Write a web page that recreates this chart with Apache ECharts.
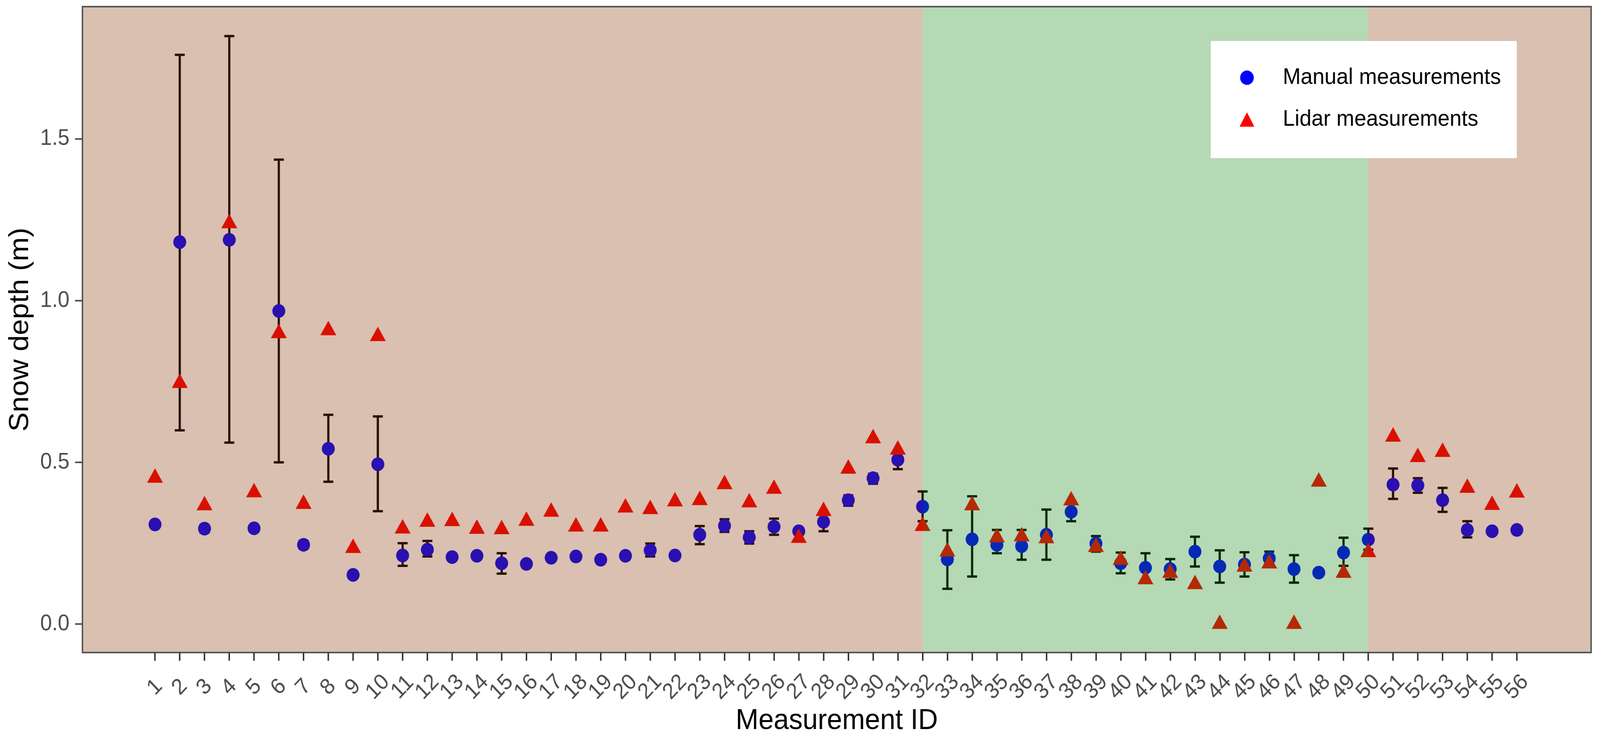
<!DOCTYPE html>
<html>
<head>
<meta charset="utf-8">
<script src="https://cdn.jsdelivr.net/npm/echarts@6.0.0/dist/echarts.min.js"></script>
<style>
html, body { margin: 0; padding: 0; background: #ffffff; overflow: hidden; }
#chart { width: 4328px; height: 1895px; transform-origin: 0 0; }
</style>
</head>
<body>
<div id="chart"></div>
<script>
// ---------------- data ----------------
const ids = [1,2,3,4,5,6,7,8,9,10,11,12,13,14,15,16,17,18,19,20,21,22,23,24,25,26,27,28,
             29,30,31,32,33,34,35,36,37,38,39,40,41,42,43,44,45,46,47,48,49,50,51,52,53,54,55,56];

const manualMean = [0.308,1.181,0.295,1.188,0.296,0.968,0.245,0.542,0.152,0.494,
                    0.212,0.230,0.207,0.211,0.188,0.186,0.205,0.209,0.199,0.211,
                    0.228,0.212,0.276,0.304,0.268,0.301,0.287,0.316,0.383,0.451,
                    0.508,0.363,0.200,0.262,0.245,0.241,0.276,0.347,0.249,0.188,
                    0.174,0.170,0.224,0.178,0.184,0.203,0.170,0.159,0.221,0.261,
                    0.431,0.429,0.383,0.291,0.287,0.291];

const manualLow  = [0.299,0.599,0.283,0.561,0.288,0.500,0.233,0.440,0.143,0.349,
                    0.180,0.209,0.199,0.202,0.156,0.178,0.196,0.200,0.190,0.201,
                    0.209,0.203,0.247,0.285,0.249,0.276,0.277,0.287,0.366,0.434,
                    0.479,0.318,0.109,0.147,0.219,0.199,0.199,0.318,0.224,0.157,
                    0.127,0.138,0.178,0.128,0.147,0.178,0.128,0.152,0.180,0.230,
                    0.387,0.406,0.347,0.268,0.279,0.283];

const manualHigh = [0.318,1.760,0.307,1.818,0.304,1.436,0.257,0.647,0.161,0.642,
                    0.250,0.257,0.215,0.220,0.219,0.194,0.214,0.218,0.208,0.221,
                    0.249,0.221,0.303,0.324,0.287,0.326,0.297,0.347,0.398,0.465,
                    0.536,0.410,0.290,0.395,0.291,0.291,0.354,0.377,0.272,0.221,
                    0.219,0.201,0.270,0.228,0.222,0.224,0.213,0.166,0.267,0.295,
                    0.481,0.451,0.421,0.318,0.295,0.299];

const lidar      = [0.452,0.745,0.367,1.239,0.407,0.899,0.371,0.908,0.235,0.890,
                    0.295,0.316,0.318,0.294,0.293,0.319,0.347,0.301,0.301,0.360,
                    0.355,0.379,0.383,0.432,0.376,0.418,0.266,0.349,0.480,0.574,
                    0.539,0.303,0.224,0.367,0.268,0.271,0.265,0.382,0.238,0.198,
                    0.138,0.158,0.123,0.000,0.177,0.187,0.000,0.440,0.158,0.222,
                    0.579,0.516,0.532,0.421,0.368,0.406];

const yTicks = [0, 0.5, 1.0, 1.5];
const xTicks = ids;
const zoneBreaks = [32, 50];          // boundaries of the middle (green) zone
const zoneKinds = ['brown', 'green', 'brown'];

// ---------------- styles / layout ----------------
const X_MIN = -1.93, X_MAX = 59.0;
const Y_MIN = -0.088, Y_MAX = 1.909;
const FONT = "'Liberation Sans', Arial, sans-serif";
const zoneColor = { brown: 'rgba(132,52,0,0.31)', green: 'rgba(16,132,16,0.31)' };
const CAP = 27;

// fit the 4328x1895 design into whatever viewport the browser really has
const el = document.getElementById('chart');
const vw = window.innerWidth, vh = window.innerHeight;
if (vw > 0 && vh > 0 && (Math.abs(vw - 4328) > 1 || Math.abs(vh - 1895) > 1)) {
  el.style.transform = 'scale(' + (vw / 4328) + ',' + (vh / 1895) + ')';
}

const zoneEdges = [X_MIN].concat(zoneBreaks, [X_MAX]);
const zoneData = zoneKinds.map((k, i) => [zoneEdges[i], zoneEdges[i + 1], i]);

// labels are split over two coincident axes so no neighbouring label gets auto-hidden
const xLabelsOdd = xTicks.filter((v, i) => i % 2 === 0);
const xLabelsEven = xTicks.filter((v, i) => i % 2 === 1);

const xLabelStyle = {
  rotate: 45, margin: 89,
  align: 'center', verticalAlign: 'middle',
  showMinLabel: true, showMaxLabel: true, hideOverlap: false,
  fontSize: 57, color: '#4d4d4d', fontFamily: FONT,
  formatter: v => String(v)
};

const chart = echarts.init(el, null, { renderer: 'canvas' });

const option = {
  animation: false,
  backgroundColor: '#ffffff',
  textStyle: { fontFamily: FONT },
  grid: {
    left: 223, right: 24, top: 17, bottom: 224,
    show: true, borderColor: '#555555', borderWidth: 4,
    backgroundColor: 'transparent', z: 10
  },
  legend: {
    z: 10,
    orient: 'vertical',
    left: 3275, top: 105,
    padding: [65, 43, 70, 78],
    itemGap: 49,
    itemWidth: 40, itemHeight: 37,
    backgroundColor: '#ffffff',
    textStyle: { fontSize: 58, color: '#000000', fontFamily: FONT, lineHeight: 58, padding: [0, 0, 0, 72] },
    data: [
      { name: 'Manual measurements', icon: 'circle' },
      { name: 'Lidar measurements', icon: 'triangle' }
    ]
  },
  xAxis: [
    {
      type: 'value', min: X_MIN, max: X_MAX, z: 10, position: 'bottom',
      name: 'Measurement ID', nameLocation: 'middle', nameGap: 137,
      nameTextStyle: { fontSize: 74, color: '#000000', fontFamily: FONT },
      axisLine: { show: false, onZero: false },
      splitLine: { show: false },
      axisTick: { show: true, customValues: xTicks, length: 21, lineStyle: { color: '#333333', width: 4 } },
      axisLabel: Object.assign({ customValues: xLabelsOdd }, xLabelStyle)
    },
    {
      type: 'value', min: X_MIN, max: X_MAX, z: 10, position: 'bottom', offset: 0,
      axisLine: { show: false, onZero: false },
      splitLine: { show: false },
      axisTick: { show: false },
      axisLabel: Object.assign({ customValues: xLabelsEven }, xLabelStyle)
    }
  ],
  yAxis: {
    type: 'value', min: Y_MIN, max: Y_MAX, z: 10,
    name: 'Snow depth (m)', nameLocation: 'middle', nameGap: 130,
    nameTextStyle: { fontSize: 74, color: '#000000', fontFamily: FONT },
    axisLine: { show: false, onZero: false },
    splitLine: { show: false },
    axisTick: { show: true, customValues: yTicks, length: 20, lineStyle: { color: '#4d4d4d', width: 4 } },
    axisLabel: {
      customValues: yTicks, margin: 35,
      showMinLabel: true, showMaxLabel: true, hideOverlap: false,
      fontSize: 57, color: '#4d4d4d', fontFamily: FONT,
      formatter: v => v.toFixed(1)
    }
  },
  series: [
    {
      name: 'Manual measurements', type: 'scatter', z: 2, xAxisIndex: 0,
      symbol: 'circle', symbolSize: 35,
      itemStyle: { color: '#0000ff', opacity: 1 },
      data: ids.map((id, i) => [id, manualMean[i]])
    },
    {
      name: 'Lidar measurements', type: 'scatter', z: 2, xAxisIndex: 0,
      symbol: 'triangle', symbolSize: [43, 37], symbolOffset: [0, -6],
      itemStyle: { color: '#ff0000', opacity: 1 },
      data: ids.map((id, i) => [id, lidar[i]])
    },
    {
      name: 'errorbars', type: 'custom', z: 2, silent: true, xAxisIndex: 0,
      data: ids.map((id, i) => [id, manualLow[i], manualHigh[i]]),
      encode: { x: 0, y: [1, 2] },
      renderItem: function (params, api) {
        const x = api.value(0);
        const lo = api.coord([x, api.value(1)]);
        const hi = api.coord([x, api.value(2)]);
        const hw = CAP / 2;
        const st = { stroke: '#000000', lineWidth: 6, fill: null };
        return {
          type: 'group',
          children: [
            { type: 'line', shape: { x1: lo[0], y1: lo[1], x2: hi[0], y2: hi[1] }, style: st },
            { type: 'line', shape: { x1: lo[0] - hw, y1: lo[1], x2: lo[0] + hw, y2: lo[1] }, style: st },
            { type: 'line', shape: { x1: hi[0] - hw, y1: hi[1], x2: hi[0] + hw, y2: hi[1] }, style: st }
          ]
        };
      }
    },
    {
      name: 'zones', type: 'custom', z: 5, silent: true, xAxisIndex: 0,
      data: zoneData,
      encode: { x: [0, 1] },
      renderItem: function (params, api) {
        const cs = params.coordSys;
        const a = api.coord([api.value(0), 0]);
        const b = api.coord([api.value(1), 0]);
        const x0 = Math.max(cs.x, a[0]);
        const x1 = Math.min(cs.x + cs.width, b[0]);
        return {
          type: 'rect',
          shape: { x: x0, y: cs.y, width: x1 - x0, height: cs.height },
          style: { fill: zoneColor[zoneKinds[api.value(2)]] }
        };
      }
    }
  ]
};

chart.setOption(option);
</script>
</body>
</html>
